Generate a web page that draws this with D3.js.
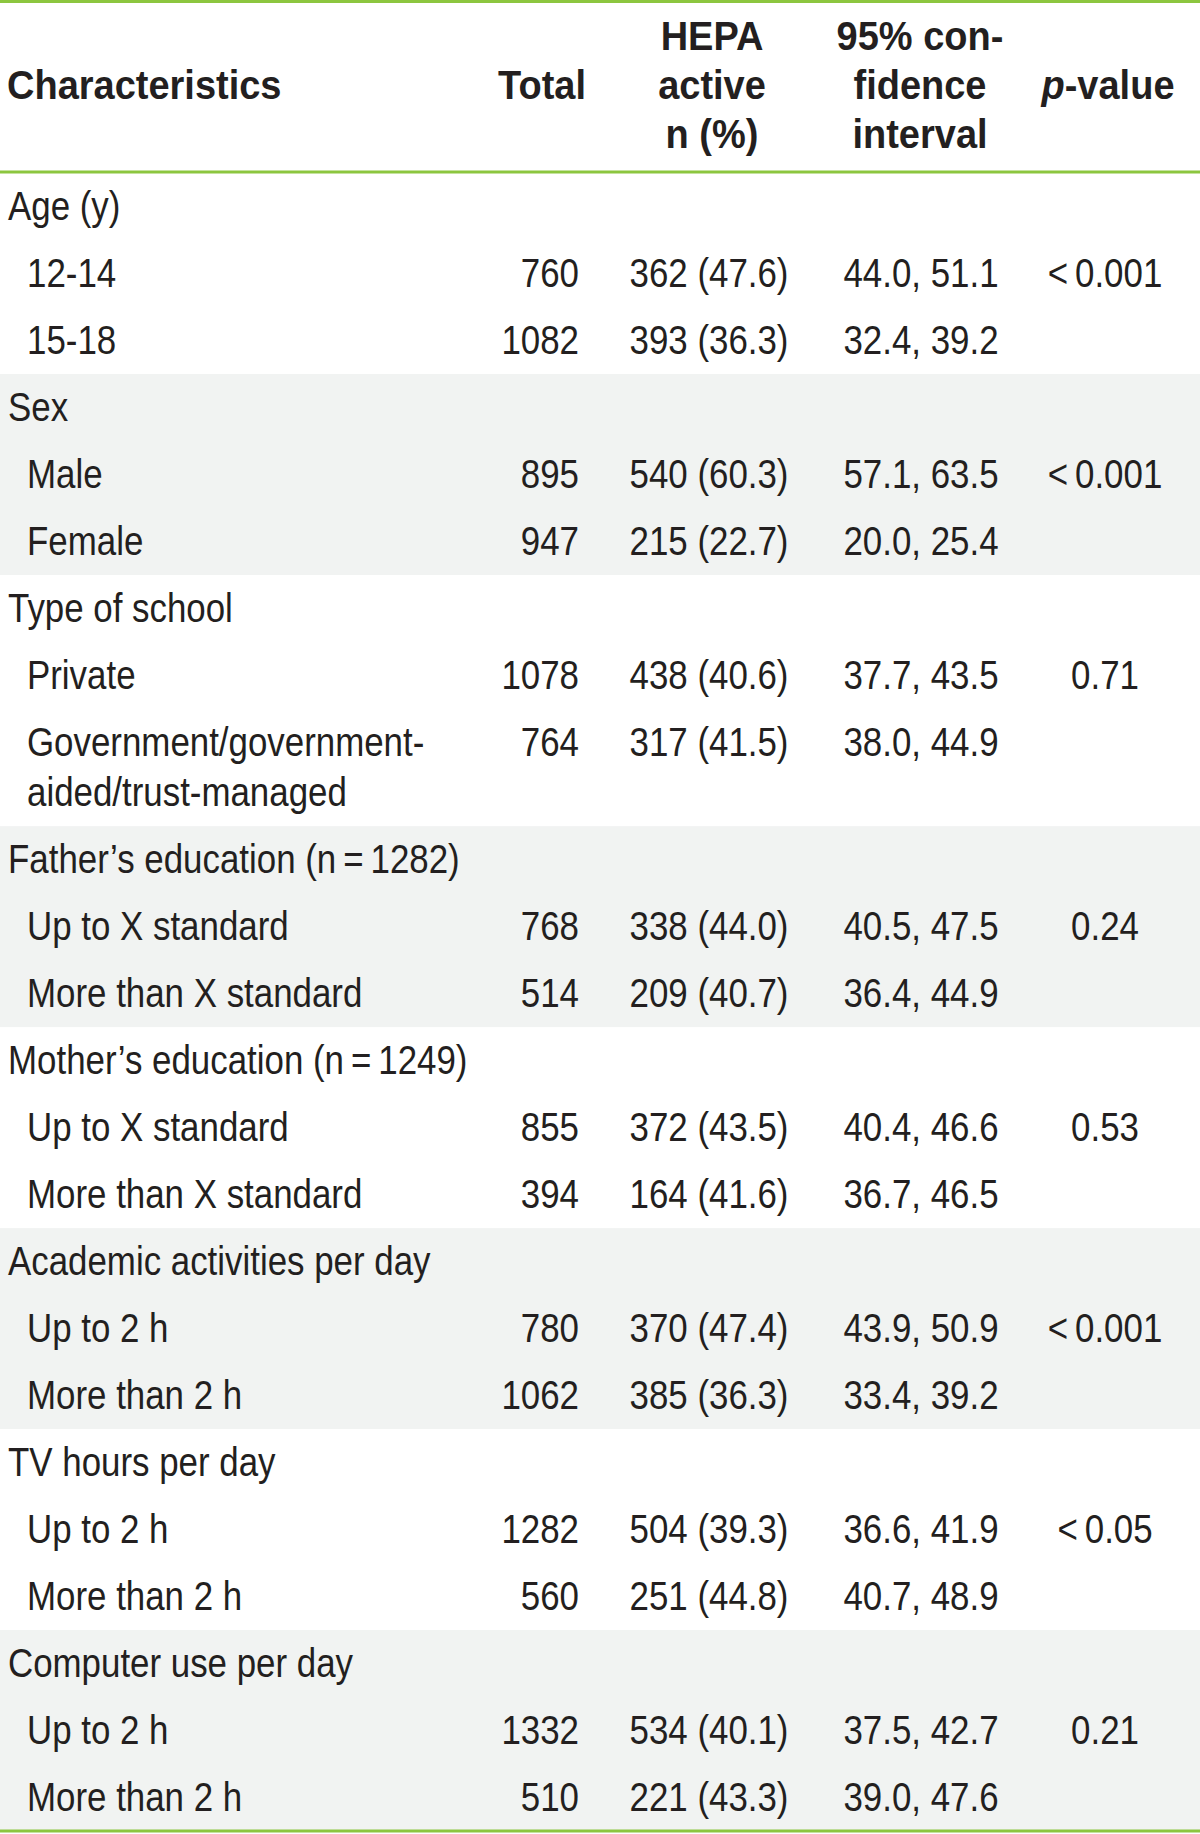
<!DOCTYPE html>
<html>
<head>
<meta charset="utf-8">
<script src="https://cdn.jsdelivr.net/npm/d3@7"></script>
<style>
  html, body { margin: 0; padding: 0; background: #ffffff; }
  svg text { font-family: "Liberation Sans", Arial, sans-serif; fill: #231f20; }
</style>
</head>
<body>
<svg id="chart" width="1200" height="1834"></svg>
<script>
// ---------- DATA ----------
const headerCharacteristics = ["Characteristics"];
const headerTotal = ["Total"];
const headerHepa = ["HEPA", "active", "n (%)"];
const headerCi = ["95% con-", "fidence", "interval"];
const headerP = ["p", "-value"];

const groupNames = [
  "Age (y)",
  "Sex",
  "Type of school",
  "Father\u2019s education (n\u2009=\u20091282)",
  "Mother\u2019s education (n\u2009=\u20091249)",
  "Academic activities per day",
  "TV hours per day",
  "Computer use per day"
];
const groupPValues = ["<\u20090.001", "<\u20090.001", "0.71", "0.24", "0.53", "<\u20090.001", "<\u20090.05", "0.21"];

const rowGroup = [0, 0, 1, 1, 2, 2, 3, 3, 4, 4, 5, 5, 6, 6, 7, 7];
const rowLabels = [
  ["12-14"], ["15-18"],
  ["Male"], ["Female"],
  ["Private"], ["Government/government-", "aided/trust-managed"],
  ["Up to X standard"], ["More than X standard"],
  ["Up to X standard"], ["More than X standard"],
  ["Up to 2 h"], ["More than 2 h"],
  ["Up to 2 h"], ["More than 2 h"],
  ["Up to 2 h"], ["More than 2 h"]
];
const rowTotals = [760, 1082, 895, 947, 1078, 764, 768, 514, 855, 394, 780, 1062, 1282, 560, 1332, 510];
const rowHepaN = [362, 393, 540, 215, 438, 317, 338, 209, 372, 164, 370, 385, 504, 251, 534, 221];
const rowHepaPct = [47.6, 36.3, 60.3, 22.7, 40.6, 41.5, 44.0, 40.7, 43.5, 41.6, 47.4, 36.3, 39.3, 44.8, 40.1, 43.3];
const rowCiLow = [44.0, 32.4, 57.1, 20.0, 37.7, 38.0, 40.5, 36.4, 40.4, 36.7, 43.9, 33.4, 36.6, 40.7, 37.5, 39.0];
const rowCiHigh = [51.1, 39.2, 63.5, 25.4, 43.5, 44.9, 47.5, 44.9, 46.6, 46.5, 50.9, 39.2, 41.9, 48.9, 42.7, 47.6];

// ---------- LAYOUT ----------
const W = 1200, H = 1834;
const GREEN = "#8cc63f", BAND = "#f1f3f2";
const FS = 40;
const SX_REG = 0.872, SX_BOLD = 0.95;
const svg = d3.select("#chart");

function txt(sel, x, y, s, anchor, sx) {
  return sel.append("text")
    .attr("transform", `translate(${x},${y}) scale(${sx},1)`)
    .attr("text-anchor", anchor || "start")
    .text(s);
}

// Build table items: each group = header line + sub rows; wrapped text adds 0.75 unit
const items = [];
let u = 0;
groupNames.forEach((g, gi) => {
  const start = u;
  items.push({ type: "group", gi, u0: u, label: g });
  u += 1;
  rowGroup.forEach((rg, ri) => {
    if (rg !== gi) return;
    const extra = (rowLabels[ri].length - 1) * 0.75;
    items.push({ type: "row", gi, ri, u0: u, first: ri === rowGroup.indexOf(gi) });
    u += 1 + extra;
  });
  items.push({ type: "band", gi, u0: start, u1: u });
});
const totalUnits = u;

const y = d3.scaleLinear().domain([0, totalUnits]).range([173, 1831]);
const unitPx = y(1) - y(0);
const col = d3.scaleOrdinal()
  .domain(["label", "indent", "total", "hepa", "ci", "p"])
  .range([8, 27, 579, 709, 921, 1105]);
const fmt1 = d3.format(".1f");

// bands
svg.selectAll("rect.band")
  .data(items.filter(d => d.type === "band" && d.gi % 2 === 1))
  .join("rect")
  .attr("x", 0).attr("width", W)
  .attr("y", d => y(d.u0))
  .attr("height", d => y(d.u1) - y(d.u0))
  .attr("fill", BAND);

// header text
const hdr = svg.append("g").attr("font-weight", "bold").attr("font-size", FS);
const hy = d3.scaleLinear().domain([0, 1]).range([50, 99]);
txt(hdr, 7, hy(1), headerCharacteristics[0], "start", SX_BOLD);
txt(hdr, 586, hy(1), headerTotal[0], "end", SX_BOLD);
headerHepa.forEach((t, i) => txt(hdr, 712, hy(i), t, "middle", SX_BOLD));
headerCi.forEach((t, i) => txt(hdr, 920, hy(i), t, "middle", SX_BOLD));
const pt = txt(hdr, 1108, hy(1), "", "middle", SX_BOLD);
pt.append("tspan").attr("font-style", "italic").text(headerP[0]);
pt.append("tspan").text(headerP[1]);

// body
const body = svg.append("g").attr("font-size", FS);
const baseOff = 47;
items.filter(d => d.type === "group").forEach(d => {
  txt(body, col("label"), y(d.u0) + baseOff, d.label, "start", SX_REG);
});
items.filter(d => d.type === "row").forEach(d => {
  const ri = d.ri, by = y(d.u0) + baseOff;
  rowLabels[ri].forEach((t, li) => {
    txt(body, col("indent"), by + li * unitPx * 0.75, t, "start", SX_REG);
  });
  txt(body, col("total"), by, String(rowTotals[ri]), "end", SX_REG);
  txt(body, col("hepa"), by, rowHepaN[ri] + " (" + fmt1(rowHepaPct[ri]) + ")", "middle", SX_REG);
  txt(body, col("ci"), by, fmt1(rowCiLow[ri]) + ", " + fmt1(rowCiHigh[ri]), "middle", SX_REG);
  if (d.first) {
    txt(body, col("p"), by, groupPValues[d.gi], "middle", SX_REG);
  }
});

// rules
const rules = [1.5, 172, 1831];
svg.selectAll("line.rule").data(rules).join("line")
  .attr("x1", 0).attr("x2", W).attr("y1", d => d).attr("y2", d => d)
  .attr("stroke", GREEN).attr("stroke-width", 3);
</script>
</body>
</html>
